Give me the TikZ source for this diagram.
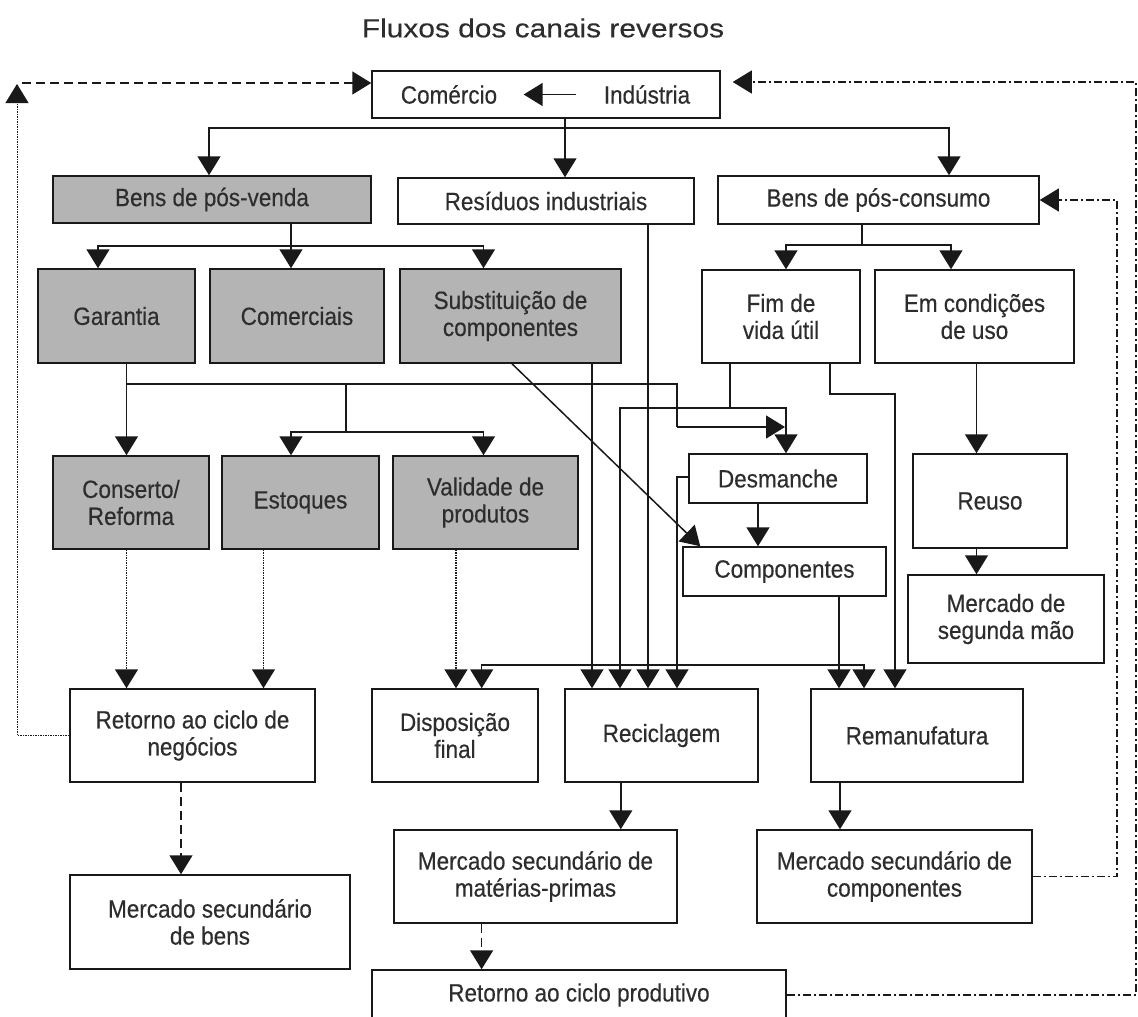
\documentclass[tikz,border=0pt]{standalone}
\usepackage{fontspec}
\setmainfont{Liberation Sans}[FakeStretch=0.9,FakeBold=0.35]
\newfontfamily\titlefont{Liberation Sans}[FakeStretch=1.15,FakeBold=0.3]
\usetikzlibrary{arrows.meta,calc}
\definecolor{boxgray}{RGB}{180,180,180}
\definecolor{ink}{RGB}{25,25,25}
\definecolor{txt}{RGB}{45,45,45}
\newcommand{\mybox}[7]{\node[#6, minimum width={#4-#2}, minimum height={#5-#3}] (#1) at ({(#2+#4)/2},{(#3+#5)/2}) {#7};}
\begin{document}
\begin{tikzpicture}[x=1pt,y=-1pt,
  every node/.style={font=\fontsize{25}{27}\selectfont, text=txt},
  box/.style={draw=ink, line width=1.5pt, inner sep=0pt, align=center, fill=white},
  gbox/.style={box, fill=boxgray},
  conn/.style={draw=ink, line width=1.5pt},
  arr/.style={conn, -{Triangle[width=23pt,length=19pt]}},
  dotl/.style={densely dotted},
  dsh/.style={dash pattern=on 9pt off 5pt},
  dd/.style={line width=1.1pt, dash pattern=on 8pt off 3pt on 2pt off 3pt},
]
\useasboundingbox (0,0) rectangle (1138,1017);
\clip (0,0) rectangle (1138,1017);
\fill[white] (0,0) rectangle (1138,1017);

\node[font=\titlefont\fontsize{26}{30}\selectfont] (title) at (543,28) {Fluxos dos canais reversos};

% boxes
\mybox{ci}{372}{71}{720}{118}{box}{}
\node (comt) at (449,94.5) {Comércio};
\node (indt) at (647,94.5) {Indústria};
\mybox{bpv}{53}{176}{371}{223}{gbox}{Bens de pós-venda}
\mybox{ri}{398}{178}{694}{224}{box}{Resíduos industriais}
\mybox{bpc}{718}{176}{1039}{224}{box}{Bens de pós-consumo}
\mybox{gar}{38}{269}{195}{363}{gbox}{Garantia}
\mybox{com}{210}{269}{384}{363}{gbox}{Comerciais}
\mybox{sub}{400}{269}{621}{363}{gbox}{Substituição de\\componentes}
\mybox{fim}{702}{270}{860}{363}{box}{Fim de\\vida útil}
\mybox{emc}{875}{270}{1074}{363}{box}{Em condições\\de uso}
\mybox{con}{53}{456}{209}{549}{gbox}{Conserto/\\Reforma}
\mybox{est}{222}{456}{379}{549}{gbox}{Estoques}
\mybox{val}{393}{456}{578}{549}{gbox}{Validade de\\produtos}
\mybox{des}{689}{454}{867}{503}{box}{Desmanche}
\mybox{cmp}{683}{547}{886}{596}{box}{Componentes}
\mybox{reu}{913}{454}{1067}{548}{box}{Reuso}
\mybox{msm}{908}{575}{1104}{663}{box}{Mercado de\\segunda mão}
\mybox{ret}{70}{689}{315}{782}{box}{Retorno ao ciclo de\\negócios}
\mybox{dis}{372}{689}{538}{782}{box}{Disposição\\final}
\mybox{rec}{565}{689}{758}{782}{box}{Reciclagem}
\mybox{rem}{811}{689}{1023}{782}{box}{Remanufatura}
\mybox{msb}{70}{875}{350}{969}{box}{Mercado secundário\\de bens}
\mybox{msmp}{394}{830}{677}{923}{box}{Mercado secundário de\\matérias-primas}
\mybox{msc}{757}{830}{1032}{923}{box}{Mercado secundário de\\componentes}
\mybox{rcp}{372}{970}{786}{1020}{box}{Retorno ao ciclo produtivo}

% junctions
\coordinate (j1) at (565,128);
\coordinate (j2) at (291,246);
\coordinate (j3) at (862,245);
\coordinate (j4) at (126.5,384);
\coordinate (j5) at (346,384);
\coordinate (j6) at (346,432);
\coordinate (j7) at (730,408);
\coordinate (j8) at (673,665);
\coordinate (k1) at (677,427);
\coordinate (tl) at (17,84);
\coordinate (tl2) at (22,83);

% Industria -> Comercio
\draw[arr] ([xshift=-24]indt.west) -- ([xshift=23]comt.east);

% top distribution
\draw[conn] (565,0 |- ci.south) -- (j1);
\draw[arr] (j1) -| (209,0 |- bpv.north);
\draw[arr] (j1) -| (949,0 |- bpc.north);
\draw[arr] (j1) -- (565,0 |- ri.north);

% pos-venda
\draw[conn] (291,0 |- bpv.south) -- (j2);
\draw[arr] (j2) -| (98,0 |- gar.north);
\draw[arr] (j2) -- (291,0 |- com.north);
\draw[arr] (j2) -| (483.5,0 |- sub.north);

% pos-consumo
\draw[conn] (862,0 |- bpc.south) -- (j3);
\draw[arr] (j3) -| (786,0 |- fim.north);
\draw[arr] (j3) -| (951,0 |- emc.north);

% garantia
\draw[arr] (126.5,0 |- gar.south) -- (126.5,0 |- con.north);
\draw[conn] (j4) -| (k1);
\draw[arr] (k1) -- (785,427);
\draw[conn] (j5) -- (j6);
\draw[arr] (j6) -| (291,0 |- est.north);
\draw[arr] (j6) -| (483.5,0 |- val.north);

% substituicao
\draw[arr] (512,0 |- sub.south) -- ([xshift=18]cmp.north west);
\draw[arr] (592,0 |- sub.south) -- (592,0 |- rec.north);

% residuos
\draw[arr] (648,0 |- ri.south) -- (648,0 |- rec.north);

% fim de vida util
\draw[conn] (730,0 |- fim.south) -- (j7);
\draw[arr] (j7) -| (786,0 |- des.north);
\draw[arr] (j7) -| (620,0 |- rec.north);
\draw[arr] (830,0 |- fim.south) |- (895,394) -- (895,0 |- rem.north);

% em condicoes
\draw[arr] (976.5,0 |- emc.south) -- (976.5,0 |- reu.north);
\draw[arr] (976.5,0 |- reu.south) -- (976.5,0 |- msm.north);

% desmanche
\draw[arr] (758,0 |- des.south) -- (758,0 |- cmp.north);
\draw[arr] (des.west |- 0,477) -| (677,0 |- rec.north);

% componentes
\draw[arr] (839,0 |- cmp.south) -- (839,0 |- rem.north);

% bus to disposicao / remanufatura
\draw[arr] (j8) -| (481.7,0 |- dis.north);
\draw[arr] (j8) -| (864,0 |- rem.north);

% lower
\draw[arr] (620.8,0 |- rec.south) -- (620.8,0 |- msmp.north);
\draw[arr] (840,0 |- rem.south) -- (840,0 |- msc.north);

% dotted
\draw[arr, dotl] (126.5,0 |- con.south) -- (126.5,0 |- ret.north);
\draw[arr, dotl] (263.5,0 |- est.south) -- (263.5,0 |- ret.north);
\draw[arr, dotl] (456,0 |- val.south) -- (456,0 |- dis.north);
\draw[arr, dotl, line width=1pt] (ret.west) -| (tl);

% dashed
\draw[arr, dsh] (tl2) -- (ci.west |- tl2);
\draw[arr, dsh] (181,0 |- ret.south) -- (181,0 |- msb.north);
\draw[arr, dsh] (481.6,0 |- msmp.south) -- (481.6,0 |- rcp.north);

% dash-dot feedback
\draw[arr, dd] (msc.east) -| (1117,0 |- bpc.east) -- (bpc.east);
\draw[arr, dd] (rcp.east) -| (1136,82) -- ([xshift=12]ci.east |- 0,82);
\end{tikzpicture}
\end{document}
